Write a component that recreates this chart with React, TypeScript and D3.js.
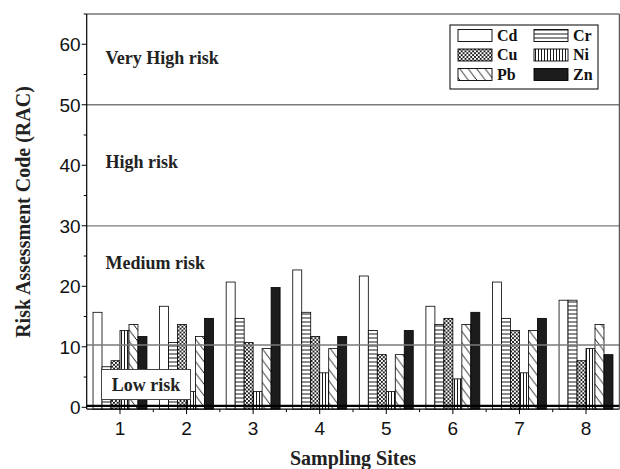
import React from 'react';
import * as d3 from 'd3';

const sites = [1, 2, 3, 4, 5, 6, 7, 8];
const metals = ['Cd', 'Cr', 'Cu', 'Ni', 'Pb', 'Zn'];
const cd = [15.7, 16.7, 20.7, 22.7, 21.7, 16.7, 20.7, 17.7];
const cr = [6.7, 10.7, 14.7, 15.7, 12.7, 13.7, 14.7, 17.7];
const cu = [7.7, 13.7, 10.7, 11.7, 8.7, 14.7, 12.7, 7.7];
const ni = [12.7, 2.6, 2.6, 5.7, 2.6, 4.7, 5.7, 9.7];
const pb = [13.7, 11.7, 9.7, 9.7, 8.7, 13.7, 12.7, 13.7];
const zn = [11.7, 14.7, 19.8, 11.7, 12.7, 15.7, 14.7, 8.7];
const yTicks = [0, 10, 20, 30, 40, 50, 60];
const yMinor = [5, 15, 25, 35, 45, 55, 65];
const xMinor = [1.5, 2.5, 3.5, 4.5, 5.5, 6.5, 7.5];
const thresholds = [10.3, 30, 50];
const zoneLabels = ['Very High risk', 'High risk', 'Medium risk', 'Low risk'];
const zoneValues = [56.8, 39.5, 22.9];

const series = [cd, cr, cu, ni, pb, zn];
const fills = ['#fff', 'url(#pCr)', 'url(#pCu)', 'url(#pNi)', 'url(#pPb)', '#1c1c1c'];

const serif = '"Liberation Serif", "Times New Roman", serif';
const sans = '"Liberation Sans", Arial, sans-serif';

export default function App() {
  const left = 86.7, right = 619.3, top = 14;
  const x = d3.scaleLinear().domain([0.5, 8.5]).range([left, right]);
  const y = d3.scaleLinear().domain([0, 65]).range([407.3, top]);
  const base = y(-0.3);
  const bw = x(0.135) - x(0);

  const legendX = 450, legendY = 25;
  const legendItems = metals.map((m, i) => ({ m, i, col: i % 2, row: Math.floor(i / 2) }));

  return (
    <svg width={620} height={469} style={{ position: 'absolute', left: 0, top: 0, background: '#fff' }}>
      <defs>
        <pattern id="pCr" patternUnits="userSpaceOnUse" width={8} height={4}>
          <rect width={8} height={4} fill="#fff" />
          <line x1={0} y1={2} x2={8} y2={2} stroke="#000" strokeWidth={0.9} />
        </pattern>
        <pattern id="pNi" patternUnits="userSpaceOnUse" width={3} height={8}>
          <rect width={3} height={8} fill="#fff" />
          <line x1={1.5} y1={0} x2={1.5} y2={8} stroke="#000" strokeWidth={0.9} />
        </pattern>
        <pattern id="pCu" patternUnits="userSpaceOnUse" width={3.8} height={3.8}>
          <rect width={3.8} height={3.8} fill="#fff" />
          <path d="M0,0 L3.8,3.8 M3.8,0 L0,3.8" stroke="#222" strokeWidth={0.95} />
        </pattern>
        <pattern id="pPb" patternUnits="userSpaceOnUse" width={8.5} height={11.3}>
          <rect width={8.5} height={11.3} fill="#fff" />
          <path d="M0,0 L8.5,11.3 M-1,-1.33 L0.5,0.66 M8,10.64 L9.5,12.6" stroke="#000" strokeWidth={0.9} />
        </pattern>
      </defs>

      {/* bars */}
      {sites.map((s, si) => (
        <g key={s}>
          {series.map((vals, mi) => (
            <rect
              key={mi}
              x={x(s) + (mi - 3) * bw}
              y={y(vals[si])}
              width={bw}
              height={base - y(vals[si])}
              fill={fills[mi]}
              stroke="#000"
              strokeWidth={0.8}
            />
          ))}
        </g>
      ))}

      {/* threshold lines */}
      {thresholds.map((t) => (
        <line key={t} x1={left} x2={right} y1={y(t)} y2={y(t)} stroke="#7a7a7a" strokeWidth={1.3} />
      ))}
      <line x1={left} x2={right} y1={y(0.22)} y2={y(0.22)} stroke="#000" strokeWidth={2.2} />

      {/* frame */}
      <line x1={left} x2={right} y1={top} y2={top} stroke="#333" strokeWidth={1} />
      <line x1={right} x2={right} y1={top} y2={base} stroke="#333" strokeWidth={1} />
      <line x1={left} x2={left} y1={top} y2={base} stroke="#000" strokeWidth={1.2} />
      <line x1={left} x2={right} y1={base} y2={base} stroke="#000" strokeWidth={1.2} />

      {/* y ticks */}
      {yTicks.map((t) => (
        <g key={t}>
          <line x1={left - 5} x2={left} y1={y(t)} y2={y(t)} stroke="#000" strokeWidth={1} />
          <text x={left - 6} y={y(t) + 7} textAnchor="end" fontFamily={sans} fontSize={19} fill="#111">{t}</text>
        </g>
      ))}
      {yMinor.map((t) => (
        <line key={t} x1={left - 3} x2={left} y1={y(t)} y2={y(t)} stroke="#000" strokeWidth={1} />
      ))}

      {/* x ticks */}
      {sites.map((s) => (
        <g key={s}>
          <line x1={x(s)} x2={x(s)} y1={base} y2={base + 5} stroke="#000" strokeWidth={1} />
          <text x={x(s)} y={435} textAnchor="middle" fontFamily={sans} fontSize={19} fill="#111">{s}</text>
        </g>
      ))}
      {xMinor.map((s) => (
        <line key={s} x1={x(s)} x2={x(s)} y1={base} y2={base + 3} stroke="#000" strokeWidth={1} />
      ))}

      {/* zone labels */}
      {zoneValues.map((v, i) => (
        <text key={i} x={105.5} y={y(v)} fontFamily={serif} fontWeight="bold" fontSize={18} fill="#222">{zoneLabels[i]}</text>
      ))}
      <rect x={101.5} y={369.5} width={89} height={30} fill="#fff" stroke="#444" strokeWidth={1} />
      <text x={146} y={y(2.7)} textAnchor="middle" fontFamily={serif} fontWeight="bold" fontSize={18} fill="#222">{zoneLabels[3]}</text>

      {/* legend */}
      <rect x={legendX} y={legendY} width={148} height={64} fill="#fff" stroke="#000" strokeWidth={1} />
      {legendItems.map(({ m, i, col, row }) => {
        const sx = legendX + 8 + col * 76;
        const sy = legendY + 4.5 + row * 19.5;
        return (
          <g key={m}>
            <rect x={sx} y={sy} width={34} height={12} fill={fills[i]} stroke="#000" strokeWidth={0.9} />
            <text x={sx + 39} y={sy + 11} fontFamily={serif} fontWeight="bold" fontSize={16} fill="#111">{m}</text>
          </g>
        );
      })}

      {/* axis titles */}
      <text x={353} y={465} textAnchor="middle" fontFamily={serif} fontWeight="bold" fontSize={20} fill="#222">Sampling Sites</text>
      <text transform="translate(30,212) rotate(-90)" textAnchor="middle" fontFamily={serif} fontWeight="bold" fontSize={20} fill="#222">Risk Assessment Code (RAC)</text>
    </svg>
  );
}
